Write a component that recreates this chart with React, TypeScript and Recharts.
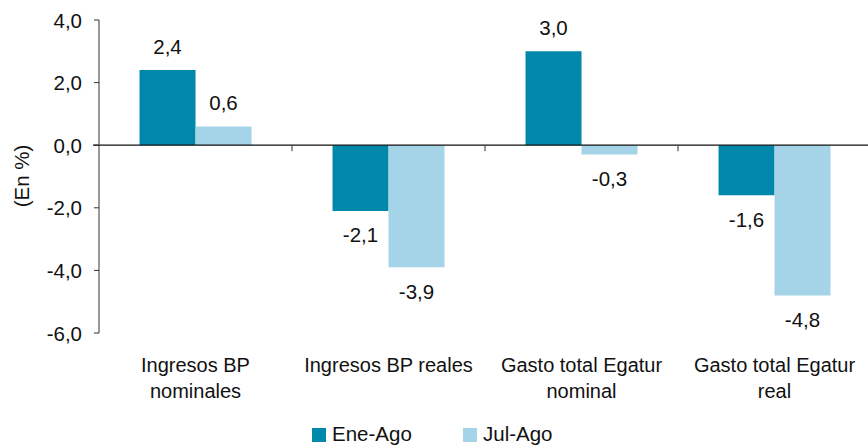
import React from 'react';
import { BarChart, Bar, XAxis, YAxis, ReferenceLine, LabelList } from 'recharts';

const categories = ['Ingresos BP\nnominales', 'Ingresos BP reales', 'Gasto total Egatur\nnominal', 'Gasto total Egatur\nreal'];
const eneAgo = [2.4, -2.1, 3.0, -1.6];
const julAgo = [0.6, -3.9, -0.3, -4.8];
const seriesNames = ['Ene-Ago', 'Jul-Ago'];
const seriesColors = ['#0088AB', '#A5D3E8'];
const yTicks = [-6, -4, -2, 0, 2, 4];

const data = categories.map((name, i) => ({ name, eneAgo: eneAgo[i], julAgo: julAgo[i] }));

const FONT = '"Liberation Sans", Arial, sans-serif';
const INK = '#111';
const fmt = (v: number) => v.toFixed(1).replace('.', ',');

const YTick = ({ x, y, payload }: any) => (
  <text x={x} y={y} textAnchor="end" dominantBaseline="central" fontSize={20.5} fontFamily={FONT} fill={INK}>
    {fmt(payload.value)}
  </text>
);

const XTick = ({ x, y, payload }: any) => {
  const lines = String(payload.value).split('\n');
  return (
    <g>
      {lines.map((l, i) => (
        <text key={i} x={x} y={y + 31 + i * 26} textAnchor="middle" fontSize={20} fontFamily={FONT} fill={INK}>
          {l}
        </text>
      ))}
    </g>
  );
};

const ValueLabel = (props: any) => {
  const vb = props.viewBox ?? props;
  const { x, y, width, height } = vb;
  const v = Number(props.value);
  const top = Math.min(y, y + height);
  const bottom = Math.max(y, y + height);
  const cy = v >= 0 ? top - 24 : bottom + 24;
  return (
    <text x={x + width / 2} y={cy} textAnchor="middle" dominantBaseline="central"
      fontSize={20.5} fontFamily={FONT} fill={INK}>
      {fmt(v)}
    </text>
  );
};

// zero line plus the small category separators hanging under it
const ZeroLine = (props: any) => {
  const { x1, y1, x2 } = props;
  const step = (x2 - x1) / categories.length;
  return (
    <g>
      <line x1={x1 - 6} y1={y1} x2={x2} y2={y1} stroke="#111" strokeWidth={1.3} />
      {categories.map((_, i) =>
        i === 0 ? null : (
          <line key={i} x1={x1 + i * step} y1={y1} x2={x1 + i * step} y2={y1 + 6} stroke="#333" strokeWidth={1} />
        ))}
    </g>
  );
};

const YLabel = () => (
  <text transform="translate(21,176) rotate(-90)" textAnchor="middle" dominantBaseline="central"
    fontSize={20.5} fontFamily={FONT} fill={INK}>
    (En %)
  </text>
);

const legendX = [312, 463];

export default function App() {
  return (
    <div style={{ position: 'absolute', left: 0, top: 0, width: 868, height: 446, overflow: 'hidden', background: '#fff' }}>
      <BarChart width={871} height={446} data={data} margin={{ top: 20, right: 0, bottom: 53, left: 0 }}
        barCategoryGap="21%" barGap={0}>
        <XAxis dataKey="name" axisLine={false} tickLine={false} height={60} tick={<XTick />} interval={0} />
        <YAxis domain={[-6, 4]} ticks={yTicks} interval={0} width={99} tickSize={5} tickMargin={12}
          axisLine={{ stroke: '#333' }} tickLine={{ stroke: '#333' }} tick={<YTick />}
          label={<YLabel />} />
        <Bar dataKey="eneAgo" name={seriesNames[0]} fill={seriesColors[0]} isAnimationActive={false}>
          <LabelList dataKey="eneAgo" content={<ValueLabel />} />
        </Bar>
        <Bar dataKey="julAgo" name={seriesNames[1]} fill={seriesColors[1]} isAnimationActive={false}>
          <LabelList dataKey="julAgo" content={<ValueLabel />} />
        </Bar>
        <ReferenceLine y={0} shape={<ZeroLine />} />
      </BarChart>
      <svg width={868} height={26} style={{ position: 'absolute', left: 0, top: 420 }}>
        {seriesNames.map((n, i) => (
          <g key={n}>
            <rect x={legendX[i]} y={8} width={14} height={14} fill={seriesColors[i]} />
            <text x={legendX[i] + 20} y={21} fontSize={20.5} fontFamily={FONT} fill={INK}>
              {n}
            </text>
          </g>
        ))}
      </svg>
    </div>
  );
}
